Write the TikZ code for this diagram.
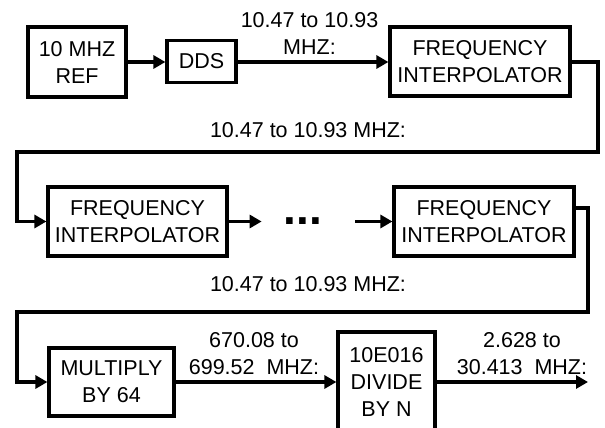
\documentclass[tikz,border=0pt]{standalone}
\usepackage{fontspec}
\setmainfont{Liberation Sans}
\usepackage{tikz}
\usetikzlibrary{positioning, arrows.meta, calc}

\begin{document}
\begin{tikzpicture}[
  x=1pt, y=-1pt,
  arr/.style={-{Triangle[length=12pt, width=13pt]}, line width=3.2pt},
  blk/.style={draw, line width=3.2pt, align=center, inner sep=2pt,
              font=\fontsize{21.5}{27}\selectfont},
  lbl/.style={font=\fontsize{21.5}{27}\selectfont, align=center, inner sep=0pt},
]
  \useasboundingbox (0,0) rectangle (605,428);

  % first row
  \node[blk, minimum width=98pt, minimum height=70pt] (REF) at (77,62) {10 MHZ\\REF};
  \node[blk, minimum width=69pt, minimum height=42pt] (DDS) at (201.5,61.5) {DDS};
  \node[blk, minimum width=180pt, minimum height=69pt] (FI1) at (480,61.5) {FREQUENCY\\INTERPOLATOR};

  % second row
  \node[blk, minimum width=179pt, minimum height=69pt] (FI2) at (137.5,221.5) {FREQUENCY\\INTERPOLATOR};
  \node[font=\fontsize{46}{46}\selectfont\bfseries, inner sep=0pt] (dots) at (303,221.5) {...};
  \node[blk, minimum width=180pt, minimum height=69pt] (FI3) at (484,221.5) {FREQUENCY\\INTERPOLATOR};

  % third row
  \node[blk, minimum width=125pt, minimum height=68pt] (MUL) at (111.5,382) {MULTIPLY\\BY 64};
  \node[blk, minimum width=97pt, minimum height=112pt, text depth=12pt] (DIV) at (386.5,388) {10E016\\DIVIDE\\BY N};
  \coordinate (out) at (588,382);

  % connectors
  \draw[arr] (REF.east) -- (REF.east -| DDS.west);
  \draw[arr] (DDS.east |- REF.east) -- (REF.east -| FI1.west);
  \draw[arr] (FI1.east |- REF.east) -- (598,62) -- (598,152) -- (17,152) |- (FI2.west);
  \draw[arr] (FI2.east) -- ([xshift=-22pt]dots.west);
  \draw[arr] ([xshift=33pt]dots.east) -- (FI3.west);
  \draw[arr] ([yshift=13.5pt]FI3.east) -| (588,312) -- (17,312) |- (MUL.west);
  \draw[arr] (MUL.east) -- (MUL.east -| DIV.west);
  \draw[arr] (DIV.east |- MUL.east) -- (out);

  % labels
  \node[lbl] (l1) at (309.5,33.5) {10.47 to 10.93\\MHZ:};
  \node[lbl] (l2) at (308,130) {10.47 to 10.93 MHZ:};
  \node[lbl] (l3) at (308,284) {10.47 to 10.93 MHZ:};
  \node[lbl] (l4) at (254,353.5) {670.08 to\\699.52~ MHZ:};
  \node[lbl] (l5) at (522,353.5) {2.628 to\\30.413~ MHZ:};
\end{tikzpicture}
\end{document}
